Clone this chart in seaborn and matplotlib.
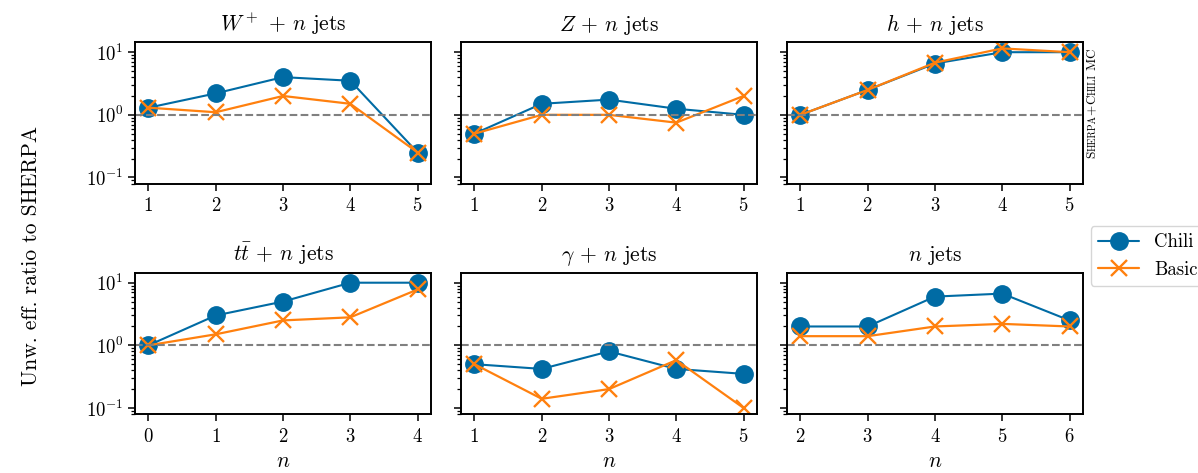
import matplotlib
matplotlib.use("Agg")
import matplotlib.pyplot as plt
import seaborn as sns
from matplotlib.transforms import IdentityTransform

# Process titles, jet multiplicities and unweighting-efficiency ratios
titles = [r"$W^+$ + $n$ jets", r"$Z$ + $n$ jets", r"$h$ + $n$ jets",
          r"$t\bar{t}$ + $n$ jets", r"$\gamma$ + $n$ jets", r"$n$ jets"]
n_w = [1, 2, 3, 4, 5]
n_z = [1, 2, 3, 4, 5]
n_h = [1, 2, 3, 4, 5]
n_tt = [0, 1, 2, 3, 4]
n_gam = [1, 2, 3, 4, 5]
n_jets = [2, 3, 4, 5, 6]

chili_w = [1.3, 2.2, 4.0, 3.5, 0.25]
basic_w = [1.3, 1.1, 2.0, 1.5, 0.25]
chili_z = [0.5, 1.5, 1.75, 1.25, 1.0]
basic_z = [0.5, 1.0, 1.0, 0.75, 2.0]
chili_h = [1.0, 2.5, 6.6, 10.0, 10.0]
basic_h = [1.0, 2.5, 6.8, 11.5, 10.0]
chili_tt = [1.0, 3.0, 5.0, 10.0, 10.0]
basic_tt = [1.0, 1.5, 2.5, 2.8, 7.8]
chili_gam = [0.5, 0.42, 0.8, 0.42, 0.35]
basic_gam = [0.5, 0.14, 0.2, 0.58, 0.1]
chili_nj = [2.0, 2.0, 6.0, 6.7, 2.5]
basic_nj = [1.4, 1.4, 2.0, 2.2, 2.0]

n_values = [n_w, n_z, n_h, n_tt, n_gam, n_jets]
chili = [chili_w, chili_z, chili_h, chili_tt, chili_gam, chili_nj]
basic = [basic_w, basic_z, basic_h, basic_tt, basic_gam, basic_nj]
labels = ["Chili", "Basic"]

BLUE = "#006BA4"
ORANGE = "#FF800E"

sns.set_style("ticks")
plt.rcParams.update({
    "font.family": "serif",
    "font.serif": ["cmr10"],
    "mathtext.fontset": "cm",
    "axes.formatter.use_mathtext": True,
    "axes.edgecolor": "black",
    "axes.linewidth": 1.4,
    "xtick.color": "black",
    "ytick.color": "black",
    "text.color": "black",
    "axes.labelcolor": "black",
    "xtick.major.size": 5,
    "ytick.major.size": 5,
    "xtick.major.width": 1.1,
    "ytick.major.width": 1.1,
    "xtick.major.pad": 5,
    "ytick.minor.size": 3,
    "ytick.minor.width": 0.9,
    "font.size": 13.5,
})

fig, axes = plt.subplots(2, 3, figsize=(11.98, 4.73), dpi=100, sharey=True)
fig.subplots_adjust(left=0.1127, right=0.904, top=0.911, bottom=0.1247,
                    wspace=0.101, hspace=0.63)

for i, ax in enumerate(axes.flat):
    x = n_values[i]
    sns.lineplot(x=x, y=chili[i], ax=ax, color=BLUE, marker="o",
                 markersize=12.5, markeredgecolor=BLUE, markeredgewidth=1.0,
                 linewidth=1.5, label=labels[0], legend=False)
    sns.lineplot(x=x, y=basic[i], ax=ax, color=ORANGE, marker="x",
                 markersize=11, markeredgecolor=ORANGE, markeredgewidth=1.7,
                 linewidth=1.6, label=labels[1], legend=False)
    ax.axhline(1.0, color="gray", linestyle="--", linewidth=1.5)
    ax.set_yscale("log")
    ax.set_ylim(0.08, 14.5)
    ax.set_xticks(x)
    ax.set_xlim(x[0] - 0.2, x[-1] + 0.2)
    ax.set_title(titles[i], fontsize=15.5, pad=8)
    ax.tick_params(labelsize=13.5)
    ax.set_ylabel("")
    if i >= 3:
        ax.set_xlabel(r"$n$", fontsize=15.5, labelpad=4)
    else:
        ax.set_xlabel("")
    for side in ["top", "right", "left", "bottom"]:
        ax.spines[side].set_visible(True)

fig.text(0.026, 1 - 256 / 473, "Unw. eff. ratio to SHERPA", rotation=90,
         ha="center", va="center", fontsize=15.5)

handles, hlabels = axes[0, 0].get_legend_handles_labels()
fig.legend(handles, hlabels, loc="center left",
           bbox_to_anchor=(0.9025, 0.459), fontsize=13.5,
           handlelength=2.2, frameon=True)

# Small-caps generator tag, set piece by piece along the right edge
renderer = fig.canvas.get_renderer()
pieces = [("S", 9.5), ("HERPA", 7.2), ("+", 9.5), ("C", 9.5), ("HILI", 7.2),
          ("M", 9.5), ("C", 9.5)]
x_base = 1098
y_cur = 473 - 158
for k, (txt, size) in enumerate(pieces):
    if k == 5:
        y_cur += 4
    t = fig.text(x_base, y_cur, txt, rotation=90, ha="right", va="bottom",
                 fontsize=size, transform=IdentityTransform())
    bb = t.get_window_extent(renderer)
    y_cur = bb.y1

fig.savefig("out.png", dpi=100)
